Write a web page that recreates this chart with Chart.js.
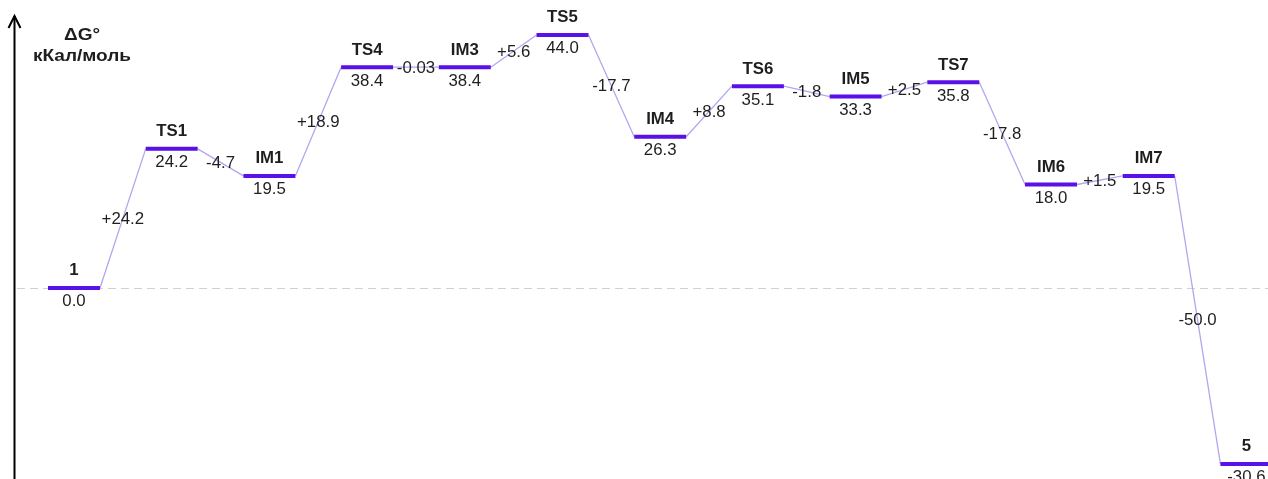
<!DOCTYPE html>
<html>
<head>
<meta charset="utf-8">
<script src="https://cdn.jsdelivr.net/npm/chart.js@4/dist/chart.umd.min.js"></script>
<style>
  html, body { margin: 0; padding: 0; background: #fff; }
  #wrap { width: 1268px; height: 479px; }
</style>
</head>
<body>
<div id="wrap"><canvas id="profile" width="1268" height="479"></canvas></div>
<script>
// Reaction free-energy profile (kcal/mol)
const stages = ['1', 'TS1', 'IM1', 'TS4', 'IM3', 'TS5', 'IM4', 'TS6', 'IM5', 'TS7', 'IM6', 'IM7', '5'];
const energies = [0.0, 24.2, 19.5, 38.4, 38.4, 44.0, 26.3, 35.1, 33.3, 35.8, 18.0, 19.5, -30.6];
const stepChanges = ['+24.2', '-4.7', '+18.9', '-0.03', '+5.6', '-17.7', '+8.8', '-1.8', '+2.5', '-17.8', '+1.5', '-50.0'];

const HALF = 0.266;            // half length of a level bar, in stage units
const LEVEL_COLOR = '#5a10e8';
const LINK_COLOR = '#b3a6ef';
const TEXT_COLOR = '#1e1e1e';
const FONT = '"Liberation Sans", Arial, sans-serif';

// level bars: pairs of points separated by gaps
const levelPoints = [];
energies.forEach((e, i) => {
  levelPoints.push({ x: i - HALF, y: e }, { x: i + HALF, y: e }, { x: i + 0.5, y: null });
});
// thin connectors from the end of one level to the start of the next
const linkPoints = [];
for (let i = 0; i < energies.length - 1; i++) {
  linkPoints.push({ x: i + HALF, y: energies[i] }, { x: i + 1 - HALF, y: energies[i + 1] }, { x: i + 0.5, y: null });
}

// centred text, slightly widened horizontally
function wideText(ctx, text, x, y, stretch) {
  ctx.save();
  ctx.translate(x, y);
  ctx.scale(stretch, 1);
  ctx.fillText(text, 0, 0);
  ctx.restore();
}

const decorations = {
  id: 'decorations',
  beforeDatasetsDraw(chart) {
    const { ctx, chartArea, scales: { y } } = chart;
    ctx.save();
    // zero reference line
    const y0 = y.getPixelForValue(0);
    ctx.strokeStyle = '#d0d0d0';
    ctx.lineWidth = 1;
    ctx.setLineDash([8, 5]);
    ctx.beginPath();
    ctx.moveTo(chartArea.left + 17, y0 + 0.5);
    ctx.lineTo(chartArea.right, y0 + 0.5);
    ctx.stroke();
    ctx.setLineDash([]);
    // vertical energy axis with arrow head
    const ax = chartArea.left + 14.5;
    ctx.strokeStyle = '#000';
    ctx.lineWidth = 2;
    ctx.beginPath();
    ctx.moveTo(ax, chartArea.bottom);
    ctx.lineTo(ax, 16);
    ctx.stroke();
    ctx.beginPath();
    ctx.moveTo(ax - 6, 28);
    ctx.lineTo(ax, 16);
    ctx.lineTo(ax + 6, 28);
    ctx.stroke();
    // axis title
    ctx.fillStyle = TEXT_COLOR;
    ctx.textAlign = 'center';
    ctx.textBaseline = 'middle';
    ctx.font = 'bold 17px ' + FONT;
    wideText(ctx, 'ΔG°', chartArea.left + 82, 35, 1.12);
    wideText(ctx, 'кКал/моль', chartArea.left + 82, 56, 1.12);
    ctx.restore();
  },
  afterDatasetsDraw(chart) {
    const { ctx, scales: { x, y } } = chart;
    ctx.save();
    ctx.fillStyle = TEXT_COLOR;
    ctx.textAlign = 'center';
    ctx.textBaseline = 'middle';
    energies.forEach((e, i) => {
      const px = x.getPixelForValue(i);
      const py = y.getPixelForValue(e);
      ctx.font = 'bold 16px ' + FONT;
      wideText(ctx, stages[i], px, py - 17, 1.05);
      ctx.font = '16px ' + FONT;
      wideText(ctx, e.toFixed(1), px, py + 14, 1.05);
    });
    ctx.font = '16px ' + FONT;
    stepChanges.forEach((label, i) => {
      const mx = (x.getPixelForValue(i + HALF) + x.getPixelForValue(i + 1 - HALF)) / 2;
      const my = (y.getPixelForValue(energies[i]) + y.getPixelForValue(energies[i + 1])) / 2;
      wideText(ctx, label, mx, my + 1, 1.05);
    });
    ctx.restore();
  }
};

new Chart(document.getElementById('profile'), {
  type: 'scatter',
  data: {
    datasets: [
      {
        label: 'levels',
        data: levelPoints,
        showLine: true,
        spanGaps: false,
        borderColor: LEVEL_COLOR,
        borderWidth: 4,
        borderCapStyle: 'butt',
        pointRadius: 0,
        pointHoverRadius: 0,
        clip: false
      },
      {
        label: 'links',
        data: linkPoints,
        showLine: true,
        spanGaps: false,
        borderColor: LINK_COLOR,
        borderWidth: 1.3,
        pointRadius: 0,
        pointHoverRadius: 0,
        clip: false
      }
    ]
  },
  options: {
    responsive: false,
    animation: false,
    devicePixelRatio: 1,
    layout: { padding: 0 },
    scales: {
      x: { type: 'linear', min: -0.7574, max: 12.221, display: false },
      y: { type: 'linear', min: -33.22, max: 50.09, display: false }
    },
    plugins: {
      legend: { display: false },
      tooltip: { enabled: false }
    }
  },
  plugins: [decorations]
});
</script>
</body>
</html>
